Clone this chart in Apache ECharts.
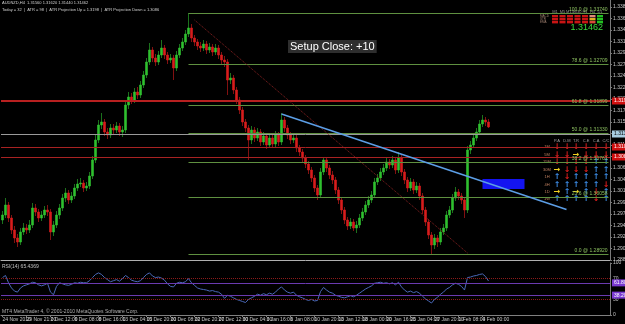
<!DOCTYPE html>
<html>
<head>
<meta charset="utf-8">
<script src="https://cdn.jsdelivr.net/npm/echarts@6/dist/echarts.min.js"></script>
<style>
html, body { margin: 0; padding: 0; background: #000; }
#chart-container { width: 625px; height: 324px; }
</style>
</head>
<body>
<div id="chart-container"></div>
<script>
var timeLabels = ["24 Nov 2010", "29 Nov 21:00", "2 Dec 12:00", "6 Dec 08:00", "8 Dec 16:00", "13 Dec 04:00",
  "15 Dec 20:00", "20 Dec 08:00", "22 Dec 20:00", "27 Dec 12:00", "30 Dec 04:00", "3 Jan 16:00", "6 Jan 08:00",
  "10 Jan 20:00", "13 Jan 12:00", "18 Jan 00:00", "20 Jan 16:00", "25 Jan 04:00", "27 Jan 20:00", "1 Feb 08:00",
  "4 Feb 00:00"];

var opens = [1.2960, 1.2970, 1.2990, 1.2964, 1.2940, 1.2924, 1.2916, 1.2936, 1.2944, 1.2940,
  1.2950, 1.2984, 1.2976, 1.2964, 1.2970, 1.2980, 1.2976, 1.2936, 1.2950, 1.2970,
  1.2984, 1.3004, 1.3014, 1.3000, 1.3008, 1.3024, 1.3032, 1.3034, 1.3024, 1.3028,
  1.3048, 1.3080, 1.3120, 1.3150, 1.3156, 1.3136, 1.3130, 1.3144, 1.3140, 1.3148,
  1.3136, 1.3140, 1.3190, 1.3206, 1.3200, 1.3216, 1.3210, 1.3230, 1.3250, 1.3276,
  1.3300, 1.3284, 1.3276, 1.3290, 1.3304, 1.3290, 1.3280, 1.3284, 1.3264, 1.3290,
  1.3304, 1.3316, 1.3332, 1.3344, 1.3324, 1.3316, 1.3308, 1.3304, 1.3312, 1.3300,
  1.3306, 1.3296, 1.3304, 1.3290, 1.3280, 1.3276, 1.3240, 1.3244, 1.3220, 1.3200,
  1.3180, 1.3156, 1.3144, 1.3120, 1.3140, 1.3124, 1.3136, 1.3116, 1.3128, 1.3110,
  1.3124, 1.3112, 1.3130, 1.3116, 1.3160, 1.3144, 1.3130, 1.3120, 1.3124, 1.3104,
  1.3096, 1.3084, 1.3072, 1.3060, 1.3044, 1.3024, 1.3010, 1.3056, 1.3080, 1.3064,
  1.3050, 1.3040, 1.3020, 1.3000, 1.2980, 1.2960, 1.2948, 1.2956, 1.2944, 1.2950,
  1.2964, 1.2976, 1.2990, 1.3000, 1.3010, 1.3036, 1.3044, 1.3056, 1.3064, 1.3076,
  1.3070, 1.3080, 1.3060, 1.3084, 1.3056, 1.3040, 1.3024, 1.3036, 1.3020, 1.3028,
  1.3008, 1.2980, 1.2956, 1.2930, 1.2910, 1.2924, 1.2916, 1.2936, 1.2944, 1.2970,
  1.2980, 1.3004, 1.3016, 1.3008, 1.3000, 1.2980, 1.3100, 1.3110, 1.3124, 1.3136,
  1.3152, 1.3160, 1.3156];

var closes = [1.2970, 1.2990, 1.2964, 1.2940, 1.2924, 1.2916, 1.2936, 1.2944, 1.2940, 1.2950,
  1.2984, 1.2976, 1.2964, 1.2970, 1.2980, 1.2976, 1.2936, 1.2950, 1.2970, 1.2984,
  1.3004, 1.3014, 1.3000, 1.3008, 1.3024, 1.3032, 1.3034, 1.3024, 1.3028, 1.3048,
  1.3080, 1.3120, 1.3150, 1.3156, 1.3136, 1.3130, 1.3144, 1.3140, 1.3148, 1.3136,
  1.3140, 1.3190, 1.3206, 1.3200, 1.3216, 1.3210, 1.3230, 1.3250, 1.3276, 1.3300,
  1.3284, 1.3276, 1.3290, 1.3304, 1.3290, 1.3280, 1.3284, 1.3264, 1.3290, 1.3304,
  1.3316, 1.3332, 1.3344, 1.3324, 1.3316, 1.3308, 1.3304, 1.3312, 1.3300, 1.3306,
  1.3296, 1.3304, 1.3290, 1.3280, 1.3276, 1.3240, 1.3244, 1.3220, 1.3200, 1.3180,
  1.3156, 1.3144, 1.3120, 1.3140, 1.3124, 1.3136, 1.3116, 1.3128, 1.3110, 1.3124,
  1.3112, 1.3130, 1.3116, 1.3160, 1.3144, 1.3130, 1.3120, 1.3124, 1.3104, 1.3096,
  1.3084, 1.3072, 1.3060, 1.3044, 1.3024, 1.3010, 1.3056, 1.3080, 1.3064, 1.3050,
  1.3040, 1.3020, 1.3000, 1.2980, 1.2960, 1.2948, 1.2956, 1.2944, 1.2950, 1.2964,
  1.2976, 1.2990, 1.3000, 1.3010, 1.3036, 1.3044, 1.3056, 1.3064, 1.3076, 1.3070,
  1.3080, 1.3060, 1.3084, 1.3056, 1.3040, 1.3024, 1.3036, 1.3020, 1.3028, 1.3008,
  1.2980, 1.2956, 1.2930, 1.2910, 1.2924, 1.2916, 1.2936, 1.2944, 1.2970, 1.2980,
  1.3004, 1.3016, 1.3008, 1.3000, 1.2980, 1.3100, 1.3110, 1.3124, 1.3136, 1.3152,
  1.3160, 1.3156, 1.31462];

var highs = [1.2978, 1.3004, 1.2996, 1.2970, 1.2948, 1.2932, 1.2944, 1.2954, 1.2952, 1.2960,
  1.2994, 1.2992, 1.2982, 1.2978, 1.2988, 1.2990, 1.2982, 1.2958, 1.2978, 1.2992,
  1.3012, 1.3024, 1.3020, 1.3016, 1.3032, 1.3042, 1.3044, 1.3040, 1.3036, 1.3056,
  1.3088, 1.3130, 1.3160, 1.3174, 1.3162, 1.3144, 1.3152, 1.3152, 1.3156, 1.3154,
  1.3148, 1.3198, 1.3216, 1.3214, 1.3224, 1.3226, 1.3238, 1.3258, 1.3284, 1.3314,
  1.3306, 1.3292, 1.3298, 1.3320, 1.3310, 1.3296, 1.3292, 1.3290, 1.3298, 1.3312,
  1.3324, 1.3340, 1.3374, 1.3352, 1.3330, 1.3322, 1.3316, 1.3320, 1.3318, 1.3314,
  1.3312, 1.3312, 1.3310, 1.3296, 1.3288, 1.3282, 1.3254, 1.3250, 1.3226, 1.3206,
  1.3186, 1.3162, 1.3150, 1.3148, 1.3146, 1.3144, 1.3142, 1.3136, 1.3134, 1.3132,
  1.3130, 1.3138, 1.3136, 1.3174, 1.3166, 1.3150, 1.3136, 1.3132, 1.3130, 1.3110,
  1.3102, 1.3090, 1.3078, 1.3066, 1.3050, 1.3030, 1.3064, 1.3086, 1.3084, 1.3070,
  1.3058, 1.3046, 1.3026, 1.3006, 1.2986, 1.2966, 1.2964, 1.2962, 1.2958, 1.2972,
  1.2984, 1.2998, 1.3008, 1.3018, 1.3044, 1.3052, 1.3064, 1.3072, 1.3084, 1.3082,
  1.3088, 1.3086, 1.3096, 1.3090, 1.3062, 1.3046, 1.3044, 1.3042, 1.3036, 1.3034,
  1.3014, 1.2986, 1.2962, 1.2936, 1.2932, 1.2930, 1.2944, 1.2952, 1.2978, 1.2988,
  1.3012, 1.3026, 1.3022, 1.3014, 1.3006, 1.3108, 1.3118, 1.3132, 1.3144, 1.3160,
  1.3170, 1.3166, 1.3162];

var lows = [1.2952, 1.2964, 1.2956, 1.2932, 1.2914, 1.2906, 1.2910, 1.2930, 1.2932, 1.2934,
  1.2944, 1.2968, 1.2956, 1.2958, 1.2964, 1.2968, 1.2920, 1.2928, 1.2944, 1.2962,
  1.2978, 1.2996, 1.2992, 1.2994, 1.3002, 1.3018, 1.3026, 1.3016, 1.3018, 1.3022,
  1.3042, 1.3074, 1.3114, 1.3142, 1.3128, 1.3122, 1.3124, 1.3132, 1.3134, 1.3128,
  1.3126, 1.3134, 1.3182, 1.3192, 1.3194, 1.3202, 1.3204, 1.3224, 1.3244, 1.3270,
  1.3276, 1.3268, 1.3270, 1.3284, 1.3282, 1.3272, 1.3274, 1.3240, 1.3258, 1.3284,
  1.3298, 1.3310, 1.3326, 1.3316, 1.3308, 1.3300, 1.3296, 1.3298, 1.3292, 1.3294,
  1.3288, 1.3290, 1.3282, 1.3272, 1.3266, 1.3210, 1.3232, 1.3212, 1.3192, 1.3172,
  1.3148, 1.3136, 1.3080, 1.3112, 1.3116, 1.3118, 1.3108, 1.3110, 1.3102, 1.3104,
  1.3104, 1.3106, 1.3108, 1.3110, 1.3136, 1.3122, 1.3112, 1.3114, 1.3096, 1.3088,
  1.3076, 1.3064, 1.3052, 1.3036, 1.3016, 1.3000, 1.3004, 1.3050, 1.3056, 1.3042,
  1.3032, 1.3012, 1.2992, 1.2972, 1.2952, 1.2940, 1.2942, 1.2938, 1.2934, 1.2944,
  1.2958, 1.2970, 1.2984, 1.2994, 1.3004, 1.3030, 1.3038, 1.3050, 1.3058, 1.3062,
  1.3064, 1.3052, 1.3054, 1.3048, 1.3032, 1.3016, 1.3018, 1.3012, 1.3014, 1.3000,
  1.2972, 1.2948, 1.2922, 1.2892, 1.2902, 1.2906, 1.2910, 1.2930, 1.2938, 1.2964,
  1.2974, 1.2998, 1.3000, 1.2992, 1.2964, 1.2974, 1.3092, 1.3104, 1.3118, 1.3130,
  1.3146, 1.3148, 1.3144];

var rsi = [72, 76, 62, 52, 46, 44, 52, 56, 58, 60,
  63, 62, 58, 56, 58, 61, 44, 39, 55, 62,
  60, 58, 57, 59, 62, 61, 63, 62, 62, 66,
  72, 78, 81, 78, 72, 68, 64, 66, 68, 65,
  70, 76, 72, 67, 65, 64, 66, 72, 78, 81,
  75, 72, 73, 71, 67, 60, 55, 54, 61, 63,
  62, 64, 70, 62, 57, 52, 50, 49, 48, 46,
  47, 45, 44, 40, 32, 38, 36, 33, 30, 28,
  26, 24, 30, 33, 36, 40, 38, 41, 39, 42,
  40, 44, 50, 54, 48, 44, 42, 44, 38, 35,
  33, 30, 28, 30, 27, 28, 45, 53, 48, 44,
  42, 38, 36, 34, 33, 35, 37, 35, 38, 42,
  46, 50, 53, 56, 61, 62, 63, 61, 62, 60,
  62, 58, 63, 54, 48, 44, 46, 43, 45, 42,
  36, 31, 27, 23, 30, 34, 40, 44, 50, 53,
  58, 61, 59, 55, 48, 72, 73, 75, 76, 78,
  79, 74, 65.44];

// fibonacci retracement of the Dec high / Jan low swing
var fibRatios = ["0.0", "23.6", "38.2", "50.0", "61.8", "78.6", "100.0"];
var fibPrices = [1.28920, 1.30058, 1.30761, 1.31330, 1.31899, 1.32709, 1.33740];
var fibStartIndex = 62;

var atrLevels = [1.3198, 1.3106, 1.3086];
var atrNames = ["ATR(W) Hi @ 1.3198", "ATR(D) Hi @ 1.3106", "ATR(D) Lo @ 1.3086"];
var pivotLevel = 1.3132;
var trendLine = [[93, 1.3172], [188, 1.2981]];
var fibDiagonal = [[64, 1.3360], [155, 1.2894]];
var zoneBox = [[160, 1.3042], [174, 1.3022]];
var rsiLevels = [70, 30];
var rsiFibLevels = [61.8, 38.2];

var headerLines = ["AUDNZD,H4  1.31560 1.31620 1.31440 1.31462",
  "Today = 32  |  ATR = 98  |  ATR Projection Up = 1.3198  |  ATR Projection Down = 1.3086"];
var dashCols = ["M1", "M5", "M15", "M30", "H1", "H4", "D1"];
var dashRows = ["MACD", "STR", "EMA"];
var dashColors = [
  ["#c81414", "#c81414", "#c81414", "#c81414", "#c81414", "#e08878", "#22c022"],
  ["#c81414", "#c81414", "#c81414", "#c81414", "#c81414", "#e0b020", "#22c022"],
  ["#c81414", "#c81414", "#c81414", "#c81414", "#c81414", "#d84a3a", "#22c022"]
];
var arrowCols = ["P.A", "D.M", "T.R", "C.E", "C.A", "C/C"];
var arrowRows = ["1M", "5M", "15M", "30M", "1H", "4H", "1D", "1W"];
var arrowSignals = ["DDDDDD", "DDSDDD", "DDDDUU", "SDDDUU", "UDUUUU", "UUUUUD", "SUSUDU", "UUUUDU"];

var totalBars = 203;
var categories = [];
for (var i = 0; i < totalBars; i++) categories.push(String(i));

var candles = opens.map(function (o, k) {
  return [o, closes[k], lows[k], highs[k]];
});

var FONT = "Liberation Sans";
var tiny = 5;

function axisTag(bg, fg) {
  return {
    show: true, position: "end", distance: 2,
    formatter: function (p) { return Number(p.value).toFixed(5); },
    backgroundColor: bg, color: fg, fontSize: tiny, fontFamily: FONT, padding: [1, 2]
  };
}

var mainLines = [];
mainLines.push({ yAxis: atrLevels[0], lineStyle: { color: "#b82020", width: 2, type: "solid" }, label: axisTag("#d01010", "#ffffff") });
mainLines.push({ yAxis: atrLevels[1], lineStyle: { color: "#a82222", width: 1, type: "solid" }, label: axisTag("#d01010", "#ffffff") });
mainLines.push({ yAxis: atrLevels[2], lineStyle: { color: "#a82222", width: 1, type: "solid" }, label: axisTag("#d01010", "#ffffff") });
mainLines.push({ yAxis: pivotLevel, lineStyle: { color: "#9a9a9a", width: 1, type: "solid" }, label: axisTag("#a8cce0", "#000000") });

fibPrices.forEach(function (p, k) {
  mainLines.push([{
    coord: [fibStartIndex, p],
    lineStyle: { color: "#5f9040", width: 1, type: "solid" },
    label: {
      show: true, position: "insideEndTop", distance: 1,
      formatter: fibRatios[k] + " @ " + p.toFixed(5),
      color: "#8cc060", fontSize: tiny, fontFamily: FONT
    }
  }, { coord: [totalBars - 1, p] }]);
});

atrLevels.forEach(function (v, k) {
  mainLines.push([{
    coord: [148, v],
    lineStyle: { opacity: 0 },
    label: {
      show: true, position: "insideMiddleBottom", distance: 1,
      formatter: atrNames[k], color: "#b04040", fontSize: tiny, fontFamily: FONT
    }
  }, { coord: [162, v] }]);
});

mainLines.push([{ coord: fibDiagonal[0], lineStyle: { color: "#8a2222", width: 1, type: "dotted" }, label: { show: false } }, { coord: fibDiagonal[1] }]);
mainLines.push([{ coord: trendLine[0], lineStyle: { color: "#5c9ee6", width: 1.5, type: "solid" }, label: { show: false } }, { coord: trendLine[1] }]);

var rsiLines = [];
rsiLevels.forEach(function (v) {
  rsiLines.push({
    yAxis: v, lineStyle: { color: "#8b1a1a", width: 1, type: "dotted" },
    label: { show: true, position: "end", distance: 3, formatter: String(v), color: "#c0c0c0", fontSize: tiny, fontFamily: FONT }
  });
});
rsiFibLevels.forEach(function (v) {
  rsiLines.push({
    yAxis: v, lineStyle: { color: "#6a3ab0", width: 1, type: "solid" },
    label: { show: true, position: "end", distance: 2, formatter: v.toFixed(4), backgroundColor: "#7a3ad0", color: "#ffffff", fontSize: tiny, fontFamily: FONT, padding: [1, 2] }
  });
});

// text overlays and indicator panels
var graphics = [];
function addText(x, y, text, color, size, extra) {
  var style = { text: text, fill: color, fontSize: size, fontFamily: FONT, align: "left", verticalAlign: "top", textAlign: "left", textVerticalAlign: "top" };
  if (extra) for (var key in extra) style[key] = extra[key];
  graphics.push({ type: "text", x: x, y: y, silent: true, style: style });
}

addText(2, 1, headerLines[0], "#d0d0d0", 4);
addText(2, 8, headerLines[1], "#d0d0d0", 4);
addText(288, 40, "Setup Close: +10", "#ffffff", 11, { backgroundColor: "#2e2e2e", padding: [1, 2] });

dashCols.forEach(function (c, k) {
  addText(555 + 7.5 * k, 10, c, "#909090", 4, { align: "center", textAlign: "center" });
});
dashRows.forEach(function (r, j) {
  addText(540, 15 + 3 * j, r, "#a08070", 3, {});
  dashColors[j].forEach(function (col, k) {
    graphics.push({ type: "rect", silent: true, shape: { x: 552 + 7.5 * k, y: 15 + 3 * j, width: 6, height: 2.4 }, style: { fill: col } });
  });
});
addText(603, 23, "1.31462", "#3cdc3c", 9, { align: "right", textAlign: "right" });

var arrowX = [557, 567, 576, 586, 596, 606];
var arrowY = [147, 155, 162, 170, 177, 185, 192, 199];
var arrowGlyph = { U: "\u2191", D: "\u2193", S: "\u2192" };
var arrowColor = { U: "#3c8ce6", D: "#e01e1e", S: "#f0d020" };
arrowCols.forEach(function (c, k) {
  addText(arrowX[k], 139, c, "#a0a0a0", 4, { align: "center", textAlign: "center" });
});
arrowRows.forEach(function (r, j) {
  addText(547, arrowY[j] - 2, r, "#c08060", 4, { align: "center", textAlign: "center" });
  for (var k = 0; k < 6; k++) {
    var s = arrowSignals[j].charAt(k);
    addText(arrowX[k], arrowY[j] - 4.5, arrowGlyph[s], arrowColor[s], 8, {
      fontFamily: "DejaVu Sans", fontWeight: "bold", align: "center", textAlign: "center"
    });
  }
});

addText(2, 264, "RSI(14) 65.4369", "#c0c0c0", tiny);
addText(2, 309, "MT4 MetaTrader 4, \u00a9 2001-2010 MetaQuotes Software Corp.", "#b0b0b0", tiny);

var dom = document.getElementById("chart-container");
var myChart = echarts.init(dom, null, { renderer: "canvas" });

var option = {
  backgroundColor: "#000000",
  animation: false,
  grid: [
    { left: 1, top: 0, width: 609, height: 260, containLabel: false, outerBoundsMode: "none" },
    { left: 1, top: 263, width: 609, height: 52, containLabel: false, outerBoundsMode: "none" }
  ],
  xAxis: [
    {
      type: "category", gridIndex: 0, data: categories, boundaryGap: true,
      axisLine: { show: true, lineStyle: { color: "#b0b0b0", width: 1 } },
      axisTick: { show: false }, axisLabel: { show: false }, splitLine: { show: false }
    },
    {
      type: "category", gridIndex: 1, data: categories, boundaryGap: true,
      axisLine: { show: true, lineStyle: { color: "#808080", width: 1 } },
      axisTick: {
        show: true, alignWithLabel: true, length: 2, lineStyle: { color: "#808080" },
        interval: function (index) { return index % 8 === 0 && index / 8 < timeLabels.length; }
      },
      axisLabel: {
        show: true, interval: 0, margin: 2, align: "left", color: "#c8c8c8",
        fontSize: tiny, fontFamily: FONT,
        formatter: function (value, index) {
          return index % 8 === 0 && timeLabels[index / 8] ? timeLabels[index / 8] : "";
        }
      },
      splitLine: { show: false }
    }
  ],
  yAxis: [
    {
      type: "value", gridIndex: 0, position: "right", scale: true,
      min: 1.2880, max: 1.3400, interval: 0.0023,
      axisLine: { show: true, lineStyle: { color: "#7a7a7a" } },
      axisTick: { show: true, length: 2, lineStyle: { color: "#7a7a7a" } },
      axisLabel: {
        show: true, margin: 3, color: "#c8c8c8", fontSize: tiny, fontFamily: FONT, showMaxLabel: false,
        formatter: function (v) { return v.toFixed(5); }
      },
      splitLine: { show: false }
    },
    {
      type: "value", gridIndex: 1, position: "right", min: 0, max: 100, interval: 100,
      axisLine: { show: true, lineStyle: { color: "#7a7a7a" } },
      axisTick: { show: true, length: 2, lineStyle: { color: "#7a7a7a" } },
      axisLabel: { show: true, margin: 3, color: "#c8c8c8", fontSize: tiny, fontFamily: FONT },
      splitLine: { show: false }
    }
  ],
  series: [
    {
      name: "AUDNZD,H4", type: "candlestick", xAxisIndex: 0, yAxisIndex: 0,
      data: candles, barWidth: 2,
      itemStyle: {
        color: "#2fc02f", color0: "#d81c1c",
        borderColor: "#2fc02f", borderColor0: "#d81c1c", borderWidth: 0.6
      },
      markLine: { silent: true, precision: 5, symbol: ["none", "none"], animation: false, data: mainLines },
      markArea: {
        silent: true,
        itemStyle: { color: "#1414f0", opacity: 1 },
        data: [[{ coord: zoneBox[0] }, { coord: zoneBox[1] }]]
      }
    },
    {
      name: "RSI(14)", type: "line", xAxisIndex: 1, yAxisIndex: 1,
      data: rsi, symbol: "none", smooth: false,
      lineStyle: { color: "#4a68b8", width: 1 },
      markLine: { silent: true, precision: 4, symbol: ["none", "none"], animation: false, data: rsiLines }
    }
  ],
  graphic: graphics
};

if (option && typeof option === "object") {
  myChart.setOption(option);
}

window.addEventListener("resize", myChart.resize);
</script>
</body>
</html>
